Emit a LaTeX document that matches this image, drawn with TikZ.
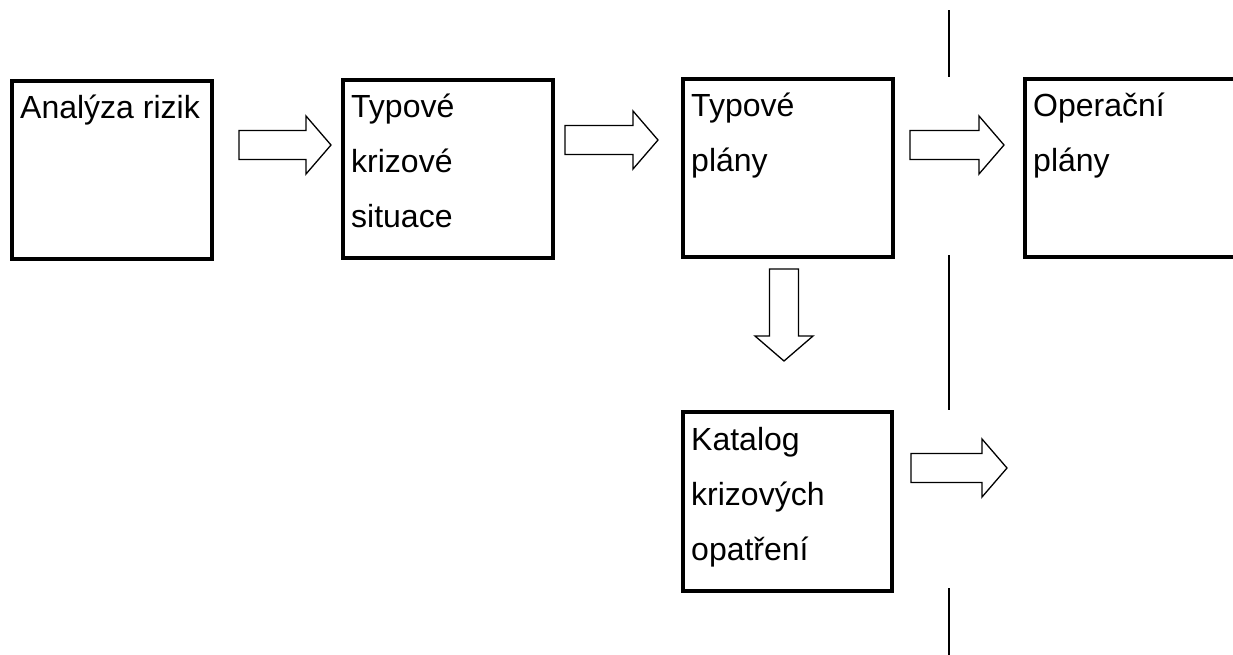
\documentclass[tikz,border=0pt]{standalone}
\usepackage{fontspec}
\setmainfont{Liberation Sans}
\usetikzlibrary{calc}

\tikzset{
  box/.style={draw=black, line width=4pt, inner sep=0pt, anchor=center,
    minimum width=210pt, minimum height=178pt},
  lbl/.style={anchor=base west, inner sep=0pt, font=\fontsize{32}{55}\selectfont},
  fat/.style={draw=black, line width=1.3pt, fill=white, line join=miter},
  divider/.style={draw=black, line width=2pt},
}

% hollow block arrow from #1 (tail) to #2 (tip)
\newcommand\fatarrow[2]{%
  \coordinate (fh) at ($(#2)!25pt!(#1)$);
  \draw[fat] ($(#1)!14.5pt!90:(#2)$) -- ($(fh)!14.5pt!90:(#2)$)
    -- ($(fh)!29pt!90:(#2)$) -- (#2) -- ($(fh)!29pt!-90:(#2)$)
    -- ($(fh)!14.5pt!-90:(#2)$) -- ($(#1)!14.5pt!-90:(#2)$) -- cycle;}

\begin{document}
\begin{tikzpicture}[x=1pt, y=-1pt]
  \useasboundingbox (0,0) rectangle (1233,654);
  \clip (0,0) rectangle (1233,654);

  % boxes
  \node[box, minimum width=200pt] (b1) at (112,170) {};
  \node[box] (b2) at (448,169) {};
  \node[box] (b3) at (788,168) {};
  \node[box] (b4) at (1130,168) {};
  \node[box, minimum width=209pt, minimum height=179pt] (b5) at (787.5,501.5) {};

  % box texts
  \node[lbl] (t1) at ($(b1.north west)+(10,39)$) {\parbox[t]{190pt}{Analýza rizik}};
  \node[lbl] (t2) at ($(b2.north west)+(10,39)$) {\parbox[t]{190pt}{Typové\\krizové\\situace}};
  \node[lbl] (t3) at ($(b3.north west)+(10,39)$) {\parbox[t]{190pt}{Typové\\plány}};
  \node[lbl] (t4) at ($(b4.north west)+(10,39)$) {\parbox[t]{190pt}{Operační\\plány}};
  \node[lbl] (t5) at ($(b5.north west)+(10,40)$) {\parbox[t]{190pt}{Katalog\\krizových\\opatření}};

  % arrow end points
  \coordinate (a1s) at ($(b1.east |- 0,145)+(25,0)$);
  \coordinate (a1e) at ($(b2.west |- 0,145)+(-10,0)$);
  \coordinate (a2s) at ($(b2.east |- 0,140)+(10,0)$);
  \coordinate (a2e) at ($(b3.west |- 0,140)+(-23,0)$);
  \coordinate (a3s) at ($(b3.east |- 0,145)+(15,0)$);
  \coordinate (a3e) at ($(b4.west |- 0,145)+(-19,0)$);
  \coordinate (a4s) at ($(784,0 |- b3.south)+(0,10)$);
  \coordinate (a4e) at ($(784,0 |- b5.north)+(0,-49)$);
  \coordinate (a5s) at ($(b5.east |- 0,468)+(17,0)$);
  \coordinate (a5e) at ($(a5s)+(96,0)$);

  \fatarrow{a1s}{a1e}
  \fatarrow{a2s}{a2e}
  \fatarrow{a3s}{a3e}
  \fatarrow{a4s}{a4e}
  \fatarrow{a5s}{a5e}

  % dividing line
  \draw[divider] (949,10) -- (949,77);
  \draw[divider] (949,255) -- (949,410);
  \draw[divider] (949,588) -- (949,660);
\end{tikzpicture}
\end{document}
